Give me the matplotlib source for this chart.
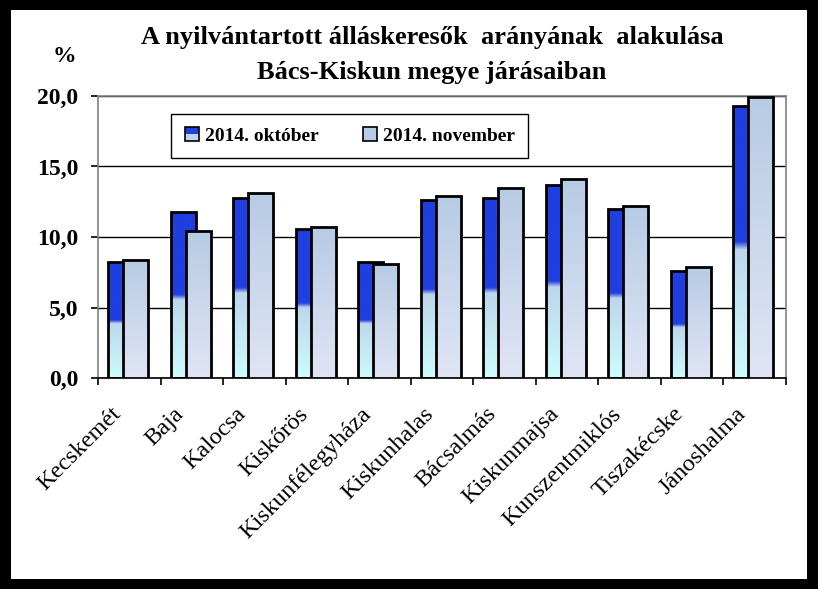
import numpy as np
import matplotlib.pyplot as plt
import matplotlib.transforms as mtransforms
from matplotlib.patches import Rectangle
from matplotlib.legend_handler import HandlerBase

jarasok = ["Kecskemét", "Baja", "Kalocsa", "Kiskőrös", "Kiskunfélegyháza", "Kiskunhalas",
           "Bácsalmás", "Kiskunmajsa", "Kunszentmiklós", "Tiszakécske", "Jánoshalma"]
oktober = [8.2, 11.8, 12.8, 10.6, 8.2, 12.6, 12.8, 13.7, 12.0, 7.6, 19.3]
november = [8.4, 10.4, 13.1, 10.7, 8.1, 12.9, 13.5, 14.1, 12.2, 7.9, 19.9]
series_names = ["2014. október", "2014. november"]
yticks = [0, 5, 10, 15, 20]
ytick_labels = ["0,0", "5,0", "10,0", "15,0", "20,0"]
title = "A nyilvántartott álláskeresők  arányának  alakulása\nBács-Kiskun megye járásaiban"

SERIF = "Liberation Serif"

# gradient colours (top -> bottom)
OCT_TOP = np.array([31, 63, 224]) / 255
OCT_MID = np.array([188, 212, 236]) / 255
OCT_BOT = np.array([205, 252, 252]) / 255
NOV_TOP = np.array([183, 203, 228]) / 255
NOV_BOT = np.array([224, 229, 245]) / 255


def grad_oct(n=300):
    t = np.linspace(0, 1, n)[:, None]
    lower = OCT_MID + (OCT_BOT - OCT_MID) * np.clip((t - 0.5) / 0.5, 0, 1)
    w = np.clip((t - 0.5) / 0.03, 0, 1)
    img = OCT_TOP * (1 - w) + lower * w
    return img[:, None, :]


def grad_nov(n=300):
    t = np.linspace(0, 1, n)[:, None]
    img = NOV_TOP + (NOV_BOT - NOV_TOP) * t
    return img[:, None, :]


class SquareHandler(HandlerBase):
    def __init__(self, top, bottom):
        super().__init__()
        self.top = top
        self.bottom = bottom

    def create_artists(self, legend, orig_handle, xdescent, ydescent,
                       width, height, fontsize, trans):
        s = height * 0.95
        x0 = width - s - xdescent
        y0 = -ydescent + (height - s) / 2
        low = Rectangle((x0, y0), s, s / 2, facecolor=self.bottom, edgecolor="none", transform=trans)
        up = Rectangle((x0, y0 + s / 2), s, s / 2, facecolor=self.top, edgecolor="none", transform=trans)
        box = Rectangle((x0, y0), s, s, facecolor="none", edgecolor="black", linewidth=1.2, transform=trans)
        return [low, up, box]


fig = plt.figure(figsize=(8.18, 5.89), dpi=100)
fig.patch.set_facecolor("black")
fig.add_artist(Rectangle((11 / 818, 10 / 589), 796 / 818, 569 / 589,
                         transform=fig.transFigure, facecolor="white", edgecolor="none", zorder=0))

ax = fig.add_axes([98 / 818, 1 - 378 / 589, 688 / 818, 282 / 589])
ax.set_facecolor("white")

x = np.arange(len(jarasok))
width = 0.4
off_oct, off_nov = -0.14, 0.10

for xs, vals, img, z in [(x + off_oct, oktober, grad_oct(), 2),
                         (x + off_nov, november, grad_nov(), 3)]:
    bars = ax.bar(xs, vals, width, facecolor="none", edgecolor="black",
                  linewidth=2.0, zorder=z + 0.5)
    for b in bars:
        im = ax.imshow(img, extent=(b.get_x(), b.get_x() + b.get_width(), 0, b.get_height()),
                       aspect="auto", zorder=z, interpolation="bilinear")
        im.set_clip_path(b)

ax.set_xlim(-0.5, len(jarasok) - 0.5)
ax.set_ylim(0, 20)

# axes styling
for side in ["left", "top", "right"]:
    ax.spines[side].set_color("#808080")
    ax.spines[side].set_linewidth(1.2)
ax.spines["bottom"].set_color("black")
ax.spines["bottom"].set_linewidth(1.2)

ax.set_yticks(yticks)
ax.set_yticklabels(ytick_labels, fontfamily=SERIF, fontweight="bold", fontsize=17)
ax.tick_params(axis="y", direction="out", length=5, width=1.2, color="black", pad=9)
ax.grid(axis="y", color="black", linewidth=1.0)
ax.set_axisbelow(True)

ax.set_xticks(x)
ax.set_xticklabels(jarasok, rotation=45, ha="right", rotation_mode="anchor",
                   fontfamily=SERIF, fontsize=17.5)
ax.set_xticks(np.arange(len(jarasok) + 1) - 0.5, minor=True)
ax.tick_params(axis="x", which="major", length=0, pad=14)
ax.tick_params(axis="x", which="minor", direction="out", length=5, width=1.2, color="black")
shift = mtransforms.ScaledTranslation(-0.19, -0.06, fig.dpi_scale_trans)
for lbl in ax.get_xticklabels():
    lbl.set_transform(lbl.get_transform() + shift)

fig.text(64 / 818, 1 - 57 / 589, "%", ha="center", va="center",
         fontfamily=SERIF, fontweight="bold", fontsize=17)
fig.text(432 / 818, 1 - 55 / 589, title, ha="center", va="center", linespacing=1.65,
         fontfamily=SERIF, fontweight="bold", fontsize=19)

h1 = Rectangle((0, 0), 1, 1)
h2 = Rectangle((0, 0), 1, 1)
leg = ax.legend([h1, h2], series_names, ncol=2, loc="upper left",
                bbox_to_anchor=(0.106, 0.936), borderaxespad=0, fancybox=False, framealpha=1,
                edgecolor="black", handlelength=0.8, handleheight=0.8,
                handletextpad=0.3, columnspacing=2.2, borderpad=0.65,
                prop={"family": SERIF, "weight": "bold", "size": 14},
                handler_map={h1: SquareHandler(OCT_TOP, OCT_MID),
                             h2: SquareHandler(NOV_TOP, NOV_TOP)})
leg.get_frame().set_linewidth(1.0)
leg.set_zorder(10)

fig.savefig("out.png", dpi=100, facecolor=fig.get_facecolor())
